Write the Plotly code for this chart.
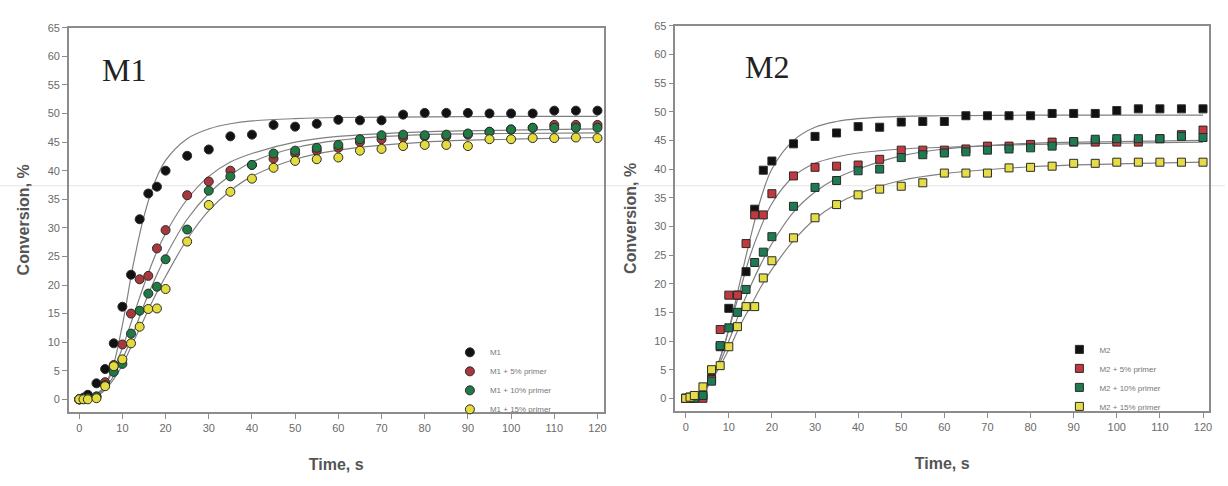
import plotly.graph_objects as go

# ---------------- data ----------------
time_pts = [0, 1, 2, 4, 6, 8, 10, 12, 14, 16, 18, 20, 25, 30, 35, 40, 45, 50, 55, 60,
            65, 70, 75, 80, 85, 90, 95, 100, 105, 110, 115, 120]

m1_labels = ["M1", "M1 + 5% primer", "M1 + 10% primer", "M1 + 15% primer"]
m2_labels = ["M2", "M2 + 5% primer", "M2 + 10% primer", "M2 + 15% primer"]

m1_0 = [0, 0.3, 0.8, 2.8, 5.3, 9.8, 16.2, 21.8, 31.5, 36.0, 37.2, 40.0, 42.6, 43.7, 46.0, 46.3,
        48.0, 47.7, 48.2, 48.9, 48.8, 48.8, 49.8, 50.1, 50.1, 50.1, 50.0, 50.0, 50.0, 50.5, 50.5, 50.5]
m1_5 = [0, 0.1, 0.2, 0.5, 3.0, 6.0, 9.6, 15.0, 21.0, 21.6, 26.4, 29.6, 35.7, 38.1, 40.0, 41.0,
        42.1, 43.0, 43.5, 44.0, 45.0, 45.5, 45.8, 46.0, 46.0, 46.3, 46.8, 47.2, 47.5, 48.0, 48.0, 48.0]
m1_10 = [0, 0.1, 0.2, 0.5, 2.5, 4.8, 6.2, 11.5, 15.5, 18.5, 19.7, 24.5, 29.7, 36.5, 39.0, 41.0,
         43.0, 43.5, 44.0, 44.5, 45.5, 46.2, 46.3, 46.2, 46.3, 46.5, 46.8, 47.2, 47.5, 47.5, 47.5, 47.5]
m1_15 = [0, 0, 0, 0.2, 2.3, 5.8, 7.0, 9.8, 12.7, 15.8, 15.9, 19.3, 27.6, 34.0, 36.3, 38.6,
         40.5, 41.7, 42.0, 42.3, 43.5, 43.8, 44.3, 44.5, 44.5, 44.3, 45.5, 45.5, 45.7, 45.7, 45.8, 45.7]

m2_0 = [0, 0.2, 0.3, 0.5, 3.5, 9.0, 15.7, 18.0, 22.1, 33.0, 39.8, 41.4, 44.4, 45.7, 46.3, 47.4,
        47.3, 48.2, 48.3, 48.3, 49.3, 49.3, 49.3, 49.3, 49.7, 49.7, 49.7, 50.2, 50.5, 50.5, 50.5, 50.5]
m2_5 = [0, 0, 0, 0, 3.3, 12.0, 18.0, 18.0, 27.0, 32.0, 32.0, 35.7, 38.8, 40.3, 40.5, 40.7,
        41.7, 43.3, 43.3, 43.3, 43.5, 44.0, 44.0, 44.3, 44.7, 44.7, 44.7, 44.7, 44.7, 45.3, 46.0, 46.8]
m2_10 = [0, 0, 0, 0.5, 3.0, 9.2, 12.3, 15.0, 19.0, 23.7, 25.5, 28.2, 33.5, 36.8, 38.0, 39.7,
         40.0, 42.0, 42.5, 42.8, 43.0, 43.3, 43.5, 43.7, 44.0, 44.8, 45.2, 45.3, 45.3, 45.3, 45.7, 45.5]
m2_15 = [0, 0.2, 0.5, 2.0, 5.0, 5.7, 9.0, 12.5, 16.0, 16.0, 21.0, 24.0, 28.0, 31.5, 33.8, 35.5,
         36.5, 37.0, 37.6, 39.3, 39.3, 39.3, 40.2, 40.3, 40.5, 41.0, 41.0, 41.2, 41.2, 41.2, 41.2, 41.2]

# fitted curves
fit_t = [0, 2.5, 5, 7.5, 10, 12.5, 15, 17.5, 20, 25, 30, 35, 40, 50, 60, 80, 100, 120]
fit_m1_0 = [0, 0.3, 1.5, 5.0, 13.0, 23.5, 32.0, 38.0, 41.8, 45.6, 47.3, 48.2, 48.7, 49.1, 49.3, 49.4, 49.5, 49.5]
fit_m1_5 = [0, 0.3, 1.5, 4.5, 9.0, 14.5, 20.0, 25.0, 29.0, 35.0, 39.0, 41.5, 43.0, 45.0, 46.0, 46.8, 47.1, 47.3]
fit_m1_10 = [0, 0.2, 1.2, 3.5, 7.0, 11.5, 16.5, 21.0, 25.0, 31.5, 36.0, 39.2, 41.5, 44.0, 45.3, 46.3, 46.5, 46.6]
fit_m1_15 = [0, 0.2, 1.0, 3.0, 6.0, 10.0, 14.0, 18.0, 21.5, 28.0, 33.0, 36.5, 39.0, 42.0, 43.6, 45.0, 45.5, 45.8]

fit_m2_0 = [0, 0.4, 2.0, 6.0, 12.0, 20.0, 28.0, 35.0, 40.0, 45.0, 47.3, 48.3, 48.8, 49.2, 49.3, 49.4, 49.4, 49.4]
fit_m2_5 = [0, 0.4, 2.0, 6.0, 12.0, 18.5, 25.0, 30.0, 34.0, 38.7, 41.0, 42.1, 42.8, 43.5, 43.8, 44.3, 44.5, 44.7]
fit_m2_10 = [0, 0.4, 2.0, 5.5, 10.0, 15.0, 19.5, 23.5, 27.0, 32.5, 36.0, 38.4, 40.0, 42.3, 43.5, 44.5, 44.8, 45.0]
fit_m2_15 = [0, 0.4, 2.0, 5.0, 8.5, 12.5, 16.0, 19.5, 22.5, 27.5, 31.3, 33.9, 35.7, 38.0, 39.2, 40.4, 40.9, 41.2]

m1_series = [m1_0, m1_5, m1_10, m1_15]
m2_series = [m2_0, m2_5, m2_10, m2_15]
m1_fits = [fit_m1_0, fit_m1_5, fit_m1_10, fit_m1_15]
m2_fits = [fit_m2_0, fit_m2_5, fit_m2_10, fit_m2_15]

m1_colors = ["#111111", "#a8383c", "#1f7a44", "#e3dc3c"]
m2_colors = ["#111111", "#c0393e", "#1d7a52", "#e6dc48"]

x_ticks = list(range(0, 121, 10))
y_ticks = list(range(0, 66, 5))

# ---------------- figure ----------------
fig = go.Figure()

for fit in m1_fits:
    fig.add_trace(go.Scatter(x=fit_t, y=fit, mode="lines", line=dict(color="#808080", width=1.2, shape="spline"),
                             showlegend=False, hoverinfo="skip", xaxis="x", yaxis="y"))
for fit in m2_fits:
    fig.add_trace(go.Scatter(x=fit_t, y=fit, mode="lines", line=dict(color="#808080", width=1.2, shape="spline"),
                             showlegend=False, hoverinfo="skip", xaxis="x2", yaxis="y2"))

for lab, ys, c in zip(m1_labels, m1_series, m1_colors):
    fig.add_trace(go.Scatter(x=time_pts, y=ys, mode="markers", name=lab,
                             marker=dict(symbol="circle", size=9, color=c, line=dict(color="#2a2a2a", width=1)),
                             xaxis="x", yaxis="y", legend="legend"))
for lab, ys, c in zip(m2_labels, m2_series, m2_colors):
    fig.add_trace(go.Scatter(x=time_pts, y=ys, mode="markers", name=lab,
                             marker=dict(symbol="square", size=8, color=c, line=dict(color="#2a2a2a", width=1)),
                             xaxis="x2", yaxis="y2", legend="legend2"))

W, H = 1228, 486

def px_x(p):
    return p / W

def px_y(p):
    return 1 - p / H

axis_common = dict(showline=True, mirror=True, linecolor="#8c8c8c", linewidth=1.5,
                   ticks="outside", ticklen=5, tickcolor="#8c8c8c", showgrid=False, zeroline=False,
                   tickfont=dict(family="Liberation Sans, Arial", size=11, color="#6a6a6a"))

title_font = dict(family="Liberation Sans, Arial", size=16, color="#555555")

xaxis_base = dict(axis_common, range=[-2.4, 121.4], tickvals=x_ticks,
                  title=dict(text="<b>Time, s</b>", font=title_font, standoff=26))
yaxis_base = dict(axis_common, range=[-2.2, 65.0], tickvals=y_ticks,
                  title=dict(text="<b>Conversion, %</b>", font=title_font, standoff=14))

legend_font = dict(family="Liberation Sans, Arial", size=8, color="#777777")

fig.update_layout(
    width=W, height=H,
    margin=dict(l=0, r=0, t=0, b=0),
    paper_bgcolor="white", plot_bgcolor="white",
    xaxis=dict(xaxis_base, domain=[px_x(69), px_x(605)], anchor="y"),
    yaxis=dict(yaxis_base, domain=[px_y(411), px_y(22)], anchor="x"),
    xaxis2=dict(xaxis_base, domain=[px_x(677), px_x(1212)], anchor="y2"),
    yaxis2=dict(yaxis_base, domain=[px_y(410), px_y(20)], anchor="x2"),
    legend=dict(x=px_x(451), y=px_y(336), xanchor="left", yanchor="top", bgcolor="rgba(0,0,0,0)",
                font=legend_font, tracegroupgap=0, itemsizing="trace"),
    legend2=dict(x=px_x(1062), y=px_y(333), xanchor="left", yanchor="top", bgcolor="rgba(0,0,0,0)",
                 font=legend_font, tracegroupgap=0, itemsizing="trace"),
    annotations=[
        dict(text="M1", x=px_x(100), y=px_y(65), xref="paper", yref="paper", xanchor="left", yanchor="middle",
             showarrow=False, font=dict(family="Liberation Serif, Times New Roman", size=32, color="#222222")),
        dict(text="M2", x=px_x(745), y=px_y(62), xref="paper", yref="paper", xanchor="left", yanchor="middle",
             showarrow=False, font=dict(family="Liberation Serif, Times New Roman", size=32, color="#222222")),
    ],
    shapes=[
        dict(type="line", xref="paper", yref="paper", x0=0, x1=1, y0=px_y(182), y1=px_y(182),
             line=dict(color="#e4e4e4", width=1), layer="below"),
    ],
    showlegend=True,
)

fig.write_html("out.html")
